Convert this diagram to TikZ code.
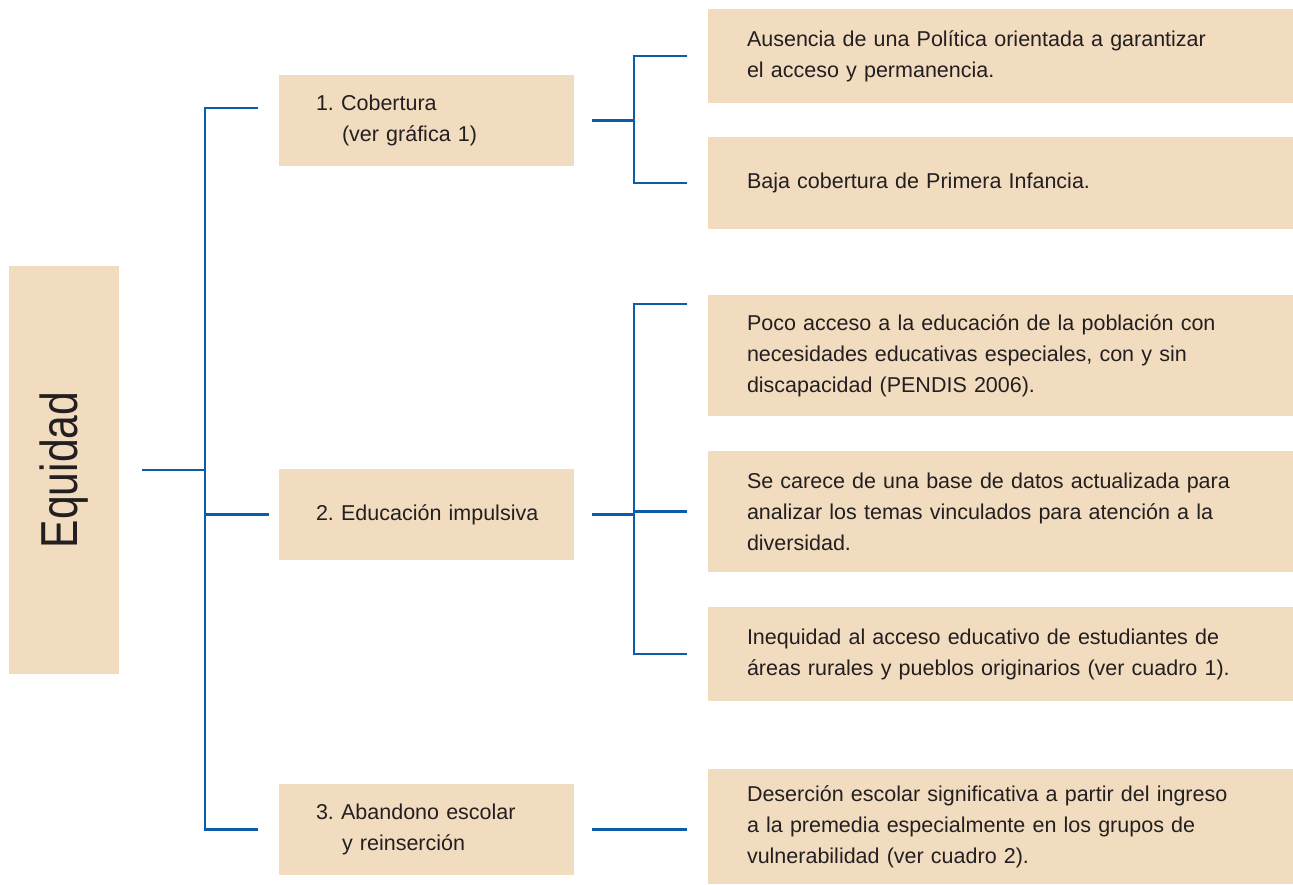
\documentclass[tikz,border=0pt]{standalone}
\usepackage{fontspec}
\setmainfont{Liberation Sans}
\newfontfamily\eqfont[FakeStretch=0.82]{Liberation Sans}
\definecolor{beige}{HTML}{F2DCBF}
\definecolor{lineblue}{HTML}{0B5DA9}
\definecolor{txt}{HTML}{231F20}
\begin{document}
\frenchspacing
\begin{tikzpicture}[x=1pt,y=-1pt,
  box/.style={fill=beige,draw=none,text=txt,align=left,inner ysep=0pt,
    font=\fontsize{21.5}{31}\selectfont},
  rbox/.style={box,inner xsep=39pt,text width=507pt,minimum width=585pt},
  lbox/.style={box,inner xsep=37pt,text width=221pt,minimum width=295pt,minimum height=91pt},
  conn/.style={draw=lineblue,line width=2.5pt}]
\useasboundingbox (0,0) rectangle (1293,885);
% Equidad
\node[fill=beige,minimum width=110pt,minimum height=408pt,inner sep=0pt] (eq) at (64,470) {};
\node[rotate=90,text=txt,font=\eqfont\fontsize{52}{60}\selectfont] (eqt) at (eq.center) {Equidad};
% left boxes
\node[lbox] (c1) at (426.5,120.5) {1. Cobertura\\\hspace*{26pt}(ver gráfica 1)};
\node[lbox] (c2) at (426.5,514.5) {\mbox{2. Educación impulsiva}};
\node[lbox] (c3) at (426.5,829.5) {3. Abandono escolar\\\hspace*{26pt}y reinserción};
% right boxes
\node[rbox,minimum height=94pt] (r1) at (1000.5,56) {Ausencia de una Política orientada a garantizar\\el acceso y permanencia.};
\node[rbox,minimum height=92pt] (r2) at (1000.5,183) {Baja cobertura de Primera Infancia.};
\node[rbox,minimum height=121pt] (r3) at (1000.5,355.5) {Poco acceso a la educación de la población con\\necesidades educativas especiales, con y sin\\discapacidad (PENDIS 2006).};
\node[rbox,minimum height=121pt] (r4) at (1000.5,511.5) {Se carece de una base de datos actualizada para\\analizar los temas vinculados para atención a la\\diversidad.};
\node[rbox,minimum height=94pt] (r5) at (1000.5,654) {Inequidad al acceso educativo de estudiantes de\\áreas rurales y pueblos originarios (ver cuadro 1).};
\node[rbox,minimum height=115pt] (r6) at (1000.5,826.5) {Deserción escolar significativa a partir del ingreso\\a la premedia especialmente en los grupos de\\vulnerabilidad (ver cuadro 2).};
% connectors
\coordinate (sp) at (205,0);
\coordinate (s1) at (634,0);
\draw[conn] ([xshift=23pt]eq.east) -- (eq.east -| sp);
\draw[conn] ([xshift=-21pt,yshift=12.5pt]c1.west) -| (sp |- c3.west) -- ([xshift=-21pt]c3.west);
\draw[conn] (sp |- c2.west) -- ([xshift=-10pt]c2.west);
% group 1
\draw[conn] ([xshift=18pt]c1.east) -- (c1.east -| s1);
\draw[conn] ([xshift=-21pt]r1.west) -| (s1 |- r2.west) -- ([xshift=-21pt]r2.west);
% group 2
\draw[conn] ([xshift=18pt]c2.east) -- (c2.east -| s1);
\draw[conn] ([xshift=-21pt,yshift=51.5pt]r3.west) -| (s1 |- r5.west) -- ([xshift=-21pt]r5.west);
\draw[conn] (s1 |- r4.west) -- ([xshift=-21pt]r4.west);
% group 3
\draw[conn] ([xshift=18pt]c3.east) -- ([xshift=-21pt]c3.east -| r6.west);
\end{tikzpicture}
\end{document}
